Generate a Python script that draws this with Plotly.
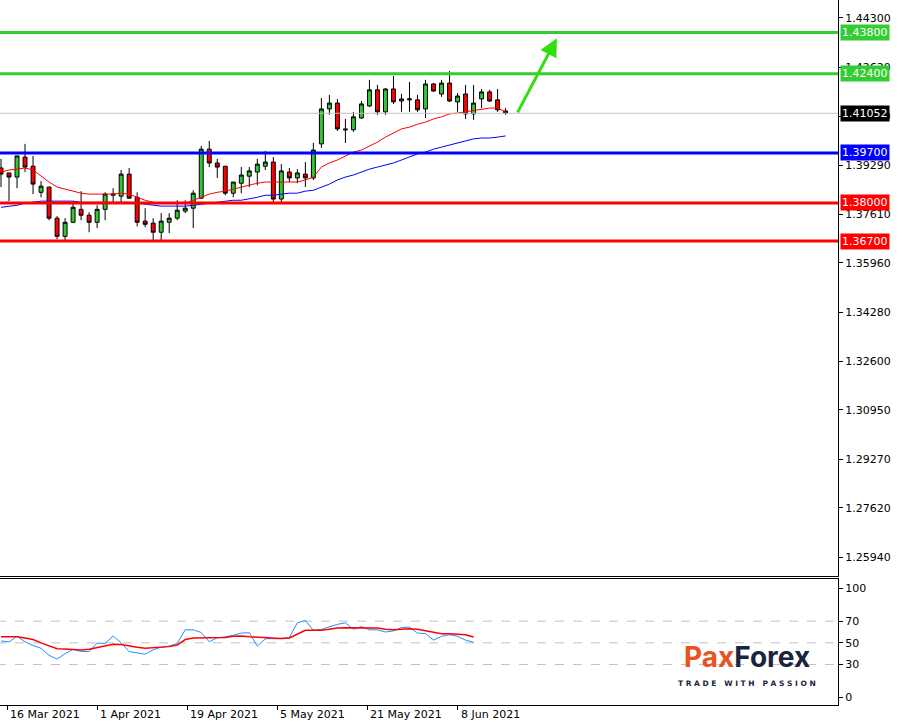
import plotly.graph_objects as go
from plotly.subplots import make_subplots

opens  = [1.3919,1.3902,1.3888,1.3956,1.3925,1.3836,1.3854,1.3748,1.3686,1.3734,1.3778,1.3758,1.3734,1.3778,1.3826,1.3823,
          1.3898,1.3819,1.3738,1.3731,1.3700,1.3734,1.3748,1.3772,1.3782,1.3816,1.3983,1.3936,1.3925,1.3833,1.3867,1.3891,
          1.3905,1.3925,1.3939,1.3813,1.3905,1.3885,1.3898,1.3885,1.4001,1.4120,1.4140,1.4052,1.4049,1.4089,1.4130,1.4185,
          1.4110,1.4188,1.4147,1.4151,1.4151,1.4120,1.4205,1.4171,1.4208,1.4144,1.4171,1.4103,1.4154,1.4178,1.4151,1.4113]
highs  = [1.3950,1.3902,1.3960,1.4001,1.3960,1.3874,1.3854,1.3755,1.3748,1.3806,1.3840,1.3768,1.3792,1.3836,1.3850,1.3912,
          1.3919,1.3836,1.3782,1.3748,1.3765,1.3765,1.3809,1.3809,1.3843,1.3994,1.4011,1.3950,1.3925,1.3871,1.3922,1.3922,
          1.3950,1.3977,1.3956,1.3932,1.3919,1.3915,1.3939,1.4004,1.4157,1.4168,1.4154,1.4086,1.4110,1.4147,1.4219,1.4202,
          1.4191,1.4232,1.4171,1.4212,1.4168,1.4219,1.4208,1.4219,1.4249,1.4174,1.4202,1.4202,1.4188,1.4185,1.4188,1.4123]
lows   = [1.3854,1.3806,1.3850,1.3905,1.3830,1.3819,1.3741,1.3676,1.3673,1.3731,1.3741,1.3700,1.3714,1.3741,1.3802,1.3802,
          1.3816,1.3720,1.3717,1.3673,1.3673,1.3697,1.3741,1.3765,1.3714,1.3816,1.3922,1.3885,1.3826,1.3819,1.3833,1.3854,
          1.3860,1.3912,1.3802,1.3802,1.3871,1.3867,1.3854,1.3878,1.3987,1.4100,1.4045,1.4004,1.4042,1.4086,1.4127,1.4100,
          1.4100,1.4137,1.4110,1.4110,1.4110,1.4089,1.4178,1.4161,1.4144,1.4110,1.4086,1.4083,1.4123,1.4144,1.4110,1.4100]
closes = [1.3898,1.3888,1.3960,1.3922,1.3864,1.3857,1.3748,1.3686,1.3734,1.3785,1.3758,1.3734,1.3778,1.3830,1.3830,1.3898,
          1.3816,1.3734,1.3727,1.3700,1.3738,1.3748,1.3775,1.3782,1.3833,1.3983,1.3936,1.3922,1.3833,1.3871,1.3895,1.3909,
          1.3932,1.3939,1.3813,1.3909,1.3885,1.3902,1.3885,1.3980,1.4120,1.4140,1.4052,1.4049,1.4093,1.4137,1.4185,1.4110,
          1.4188,1.4144,1.4154,1.4154,1.4117,1.4205,1.4181,1.4208,1.4147,1.4164,1.4103,1.4140,1.4178,1.4147,1.4117,1.4106]

ma_fast = [1.3905,1.3912,1.3915,1.3919,1.3912,1.3891,1.3871,1.3854,1.3847,1.3840,1.3833,1.3830,1.3830,1.3830,1.3830,1.3833,
           1.3830,1.3819,1.3809,1.3802,1.3799,1.3799,1.3799,1.3799,1.3809,1.3819,1.3830,1.3836,1.3840,1.3847,1.3854,1.3860,
           1.3867,1.3871,1.3871,1.3871,1.3871,1.3871,1.3878,1.3888,1.3922,1.3936,1.3946,1.3960,1.3973,1.3980,1.3994,1.4007,
           1.4024,1.4038,1.4052,1.4058,1.4068,1.4075,1.4086,1.4093,1.4103,1.4106,1.4110,1.4113,1.4117,1.4123,1.4123,1.4110]
ma_slow = [1.3785,1.3789,1.3792,1.3799,1.3802,1.3806,1.3806,1.3806,1.3806,1.3806,1.3802,1.3802,1.3802,1.3802,1.3802,1.3802,
           1.3802,1.3799,1.3795,1.3792,1.3789,1.3789,1.3789,1.3789,1.3792,1.3795,1.3799,1.3802,1.3806,1.3809,1.3809,1.3813,
           1.3819,1.3826,1.3826,1.3830,1.3833,1.3833,1.3840,1.3843,1.3854,1.3864,1.3878,1.3888,1.3895,1.3905,1.3915,1.3922,
           1.3929,1.3936,1.3946,1.3956,1.3967,1.3973,1.3983,1.3990,1.3997,1.4004,1.4011,1.4018,1.4021,1.4021,1.4024,1.4028]

rsi = [51.7,50.8,56,51,47.5,45,38.5,35,40,44,42,42,49.8,49.5,56.3,50,42,41,39.5,43.5,46,47,49.5,62,62,59.5,51,54.7,55.5,57,
       59,59.3,47,53.8,53.8,53.8,55,68.5,70.6,61.5,62.5,65,67,68.5,62.5,65,62,62,60,61,64,64.5,59,58.5,52.5,56,57.5,56,52.5,50.5]
rsi_signal = [55.6,55.6,55.6,54.5,53,50,47,44.5,44.3,44,43.4,44,45.6,46.5,48.6,48.5,47,46,45,45.3,45.6,46.5,48,53,54.5,54.7,
              54.7,54.7,55,56,56.2,55.5,55,55,54.5,54,54.5,58,61.5,61.5,61.5,62.5,63.6,64,64,63.8,63.6,63.6,62.5,62,62.5,63,62.5,
              61,60,58.4,58.4,58,57.5,55.4]

levels = [1.4380, 1.4240, 1.3970, 1.3800, 1.3670]
level_colors = ["#33cc33", "#33cc33", "#0000ff", "#ff0000", "#ff0000"]
last_price = 1.41052
price_ticks = [1.44300, 1.42620, 1.40940, 1.39290, 1.37610, 1.35960, 1.34280, 1.32600, 1.30950, 1.29270, 1.27620, 1.25940]
date_pos = [0.75, 12, 23.25, 34.5, 45.75, 57]
date_labels = ["16 Mar 2021", "1 Apr 2021", "19 Apr 2021", "5 May 2021", "21 May 2021", "8 Jun 2021"]
rsi_ticks = [100, 70, 50, 30, 0]

x = list(range(len(opens)))
xr = list(range(len(rsi)))

fig = make_subplots(rows=2, cols=1, shared_xaxes=True, row_heights=[0.82, 0.18], vertical_spacing=0.004)

fig.add_trace(go.Scatter(x=x, y=ma_slow, mode="lines", line=dict(color="#0000ff", width=1), hoverinfo="skip"), 1, 1)
fig.add_trace(go.Scatter(x=x, y=ma_fast, mode="lines", line=dict(color="#ff0000", width=1), hoverinfo="skip"), 1, 1)
for lv, c in zip(levels, level_colors):
    fig.add_trace(go.Scatter(x=[-5, 120], y=[lv, lv], mode="lines", line=dict(color=c, width=3), hoverinfo="skip"), 1, 1)
fig.add_trace(go.Scatter(x=[-5, 120], y=[last_price, last_price], mode="lines", line=dict(color="#c0c0c0", width=1), hoverinfo="skip"), 1, 1)
fig.add_trace(go.Candlestick(x=x, open=opens, high=highs, low=lows, close=closes, whiskerwidth=0,
                             increasing=dict(line=dict(color="black", width=1), fillcolor="#32c832"),
                             decreasing=dict(line=dict(color="black", width=1), fillcolor="#ff0000")), 1, 1)

for lv in [70, 50, 30]:
    fig.add_trace(go.Scatter(x=[-5, 120], y=[lv, lv], mode="lines", line=dict(color="#c0c0c0", width=1, dash="dash"), hoverinfo="skip"), 2, 1)
fig.add_trace(go.Scatter(x=xr, y=rsi, mode="lines", line=dict(color="#1e90ff", width=1), hoverinfo="skip"), 2, 1)
fig.add_trace(go.Scatter(x=xr, y=rsi_signal, mode="lines", line=dict(color="#ff0000", width=1.5), hoverinfo="skip"), 2, 1)

xrange = [-0.125, 104.5]
fig.update_xaxes(range=xrange, showgrid=False, zeroline=False, rangeslider_visible=False, showline=True,
                 linecolor="black", mirror=True, linewidth=1, automargin=False)
fig.update_xaxes(tickvals=date_pos, ticktext=[""] * len(date_pos), ticks="outside", ticklen=4, tickcolor="black",
                 row=2, col=1)
fig.update_xaxes(showticklabels=False, row=1, col=1)
fig.update_yaxes(side="right", showgrid=False, zeroline=False, showline=True, linecolor="black", mirror=True,
                 ticks="outside", ticklen=4, tickcolor="black", automargin=False,
                 tickfont=dict(family="DejaVu Sans", size=11, color="black"))
fig.update_yaxes(range=[1.2530, 1.4491], tickvals=price_ticks, ticktext=[f"{v:.5f}" for v in price_ticks], row=1, col=1)
fig.update_yaxes(range=[-7.3, 109.2], tickvals=rsi_ticks, row=2, col=1)

for p, t in zip(date_pos, date_labels):
    fig.add_annotation(x=p, xref="x2", y=0, yref="paper", text=t, showarrow=False, xanchor="left", yanchor="top",
                       xshift=1, yshift=-1, font=dict(family="DejaVu Sans", size=11, color="black"))

for lv, c in zip(levels + [last_price], level_colors + ["black"]):
    fig.add_annotation(x=1.0, xref="paper", y=lv, yref="y", text=f"{lv:.5f}", showarrow=False, xanchor="left",
                       xshift=2, bgcolor=c, font=dict(family="DejaVu Sans", size=11, color="white"), borderpad=1)

fig.add_annotation(x=69.4, y=1.4361, ax=64.4, ay=1.4103, xref="x", yref="y", axref="x", ayref="y", text="",
                   showarrow=True, arrowhead=2, arrowsize=1.2, arrowwidth=3, arrowcolor="#33dd11")

fig.add_annotation(x=0.892, y=0.068, xref="paper", yref="paper", showarrow=False, xanchor="center", yanchor="middle",
                   text="<b><span style='color:#e8531f'>Pax</span><span style='color:#1a2340'>Forex</span></b>",
                   font=dict(family="Inter", size=28, color="#1a2340"))
fig.add_annotation(x=0.892, y=0.030, xref="paper", yref="paper", showarrow=False, xanchor="center", yanchor="middle",
                   text="<b>T R A D E   W I T H   P A S S I O N</b>",
                   font=dict(family="DejaVu Sans", size=7.5, color="#1a2340"))

fig.update_layout(width=902, height=724, margin=dict(l=0, r=64, t=0, b=19, autoexpand=False), paper_bgcolor="white",
                  plot_bgcolor="white", showlegend=False)
fig.write_html("out.html", config={"displayModeBar": False},
               post_script="document.body.style.margin='0px';document.body.style.overflow='hidden';")
